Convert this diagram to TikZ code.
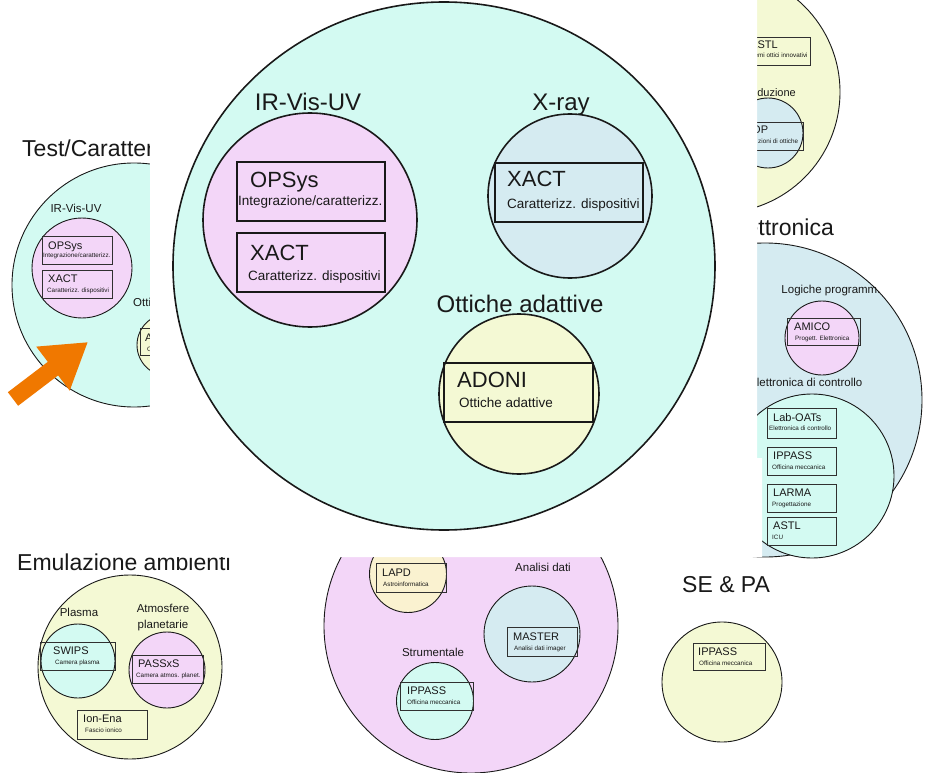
\documentclass[tikz,border=0pt]{standalone}
\usepackage{fontspec}
\setmainfont{Liberation Sans}
\usetikzlibrary{arrows.meta,shapes.geometric}
\definecolor{cyanF}{RGB}{211,250,242}
\definecolor{pinkF}{RGB}{243,214,248}
\definecolor{blueF}{RGB}{213,235,241}
\definecolor{yellowF}{RGB}{244,249,212}
\definecolor{lapdF}{RGB}{250,242,208}
\definecolor{arrowOr}{RGB}{240,120,0}
\definecolor{inkC}{RGB}{25,25,25}
\newcommand\fsz[1]{\fontsize{#1pt}{#1pt}\selectfont}
\tikzset{
  circ/.style={circle, draw=inkC, line width=0.9pt, inner sep=0pt, outer sep=0pt},
  bigcirc/.style={circle, draw=inkC, line width=1.6pt, inner sep=0pt, outer sep=0pt},
  sbox/.style={rectangle, draw=inkC!90, line width=0.8pt, inner sep=0pt, outer sep=0pt, minimum width=70pt, minimum height=28pt, anchor=north west},
  bbox/.style={rectangle, draw=inkC, line width=1.8pt, inner sep=0pt, outer sep=0pt, anchor=north west, minimum width=148pt, minimum height=59pt},
  lbl/.style={inner sep=0pt, anchor=base, text=inkC},
  tl/.style={inner sep=0pt, anchor=base west, text=inkC},
  gtitle/.style={tl, font=\fsz{23}},
  stitle/.style={tl, font=\fsz{11}},
  ssub/.style={tl, font=\fsz{6.3}},
  slbl/.style={lbl, font=\fsz{11.5}},
  btitle/.style={tl, font=\fsz{22}},
  bsub/.style={tl, font=\fsz{13.5}},
  blbl/.style={lbl, font=\fsz{24}},
  fatarrow/.style={draw=arrowOr, line width=17pt, -{Triangle[length=44pt, width=52pt]}}
}
\begin{document}
\begin{tikzpicture}[x=1pt, y=-1pt]
\useasboundingbox (0,0) rectangle (927,773);
\clip (0,0) rectangle (927,773);
\fill[white] (0,0) rectangle (927,773);

% ---------- Test / Caratterizzazione (left, partly hidden)
\node[gtitle] (tTest) at (22,157) {Test/Caratterizzazione};
\node[circ, fill=cyanF, minimum size=244pt] (cTest) at (134,285) {};
\node[slbl] (lTestIR) at (76,212) {IR-Vis-UV};
\node[circ, fill=pinkF, minimum size=100pt] (cTestIR) at (82,268) {};
\node[sbox] (bTestOPS) at (42,236) {};
\node[stitle] (tTestOPS) at (48,249) {OPSys};
\node[ssub] (sTestOPS) at (43,258) {Integrazione/caratterizz.};
\node[sbox] (bTestXACT) at (42,270) {};
\node[stitle] (tTestXACT) at (48,282) {XACT};
\node[ssub] (sTestXACT) at (47,292) {Caratterizz. dispositivi};
\node[tl, font=\fsz{11.5}] (lTestOtt) at (133,306) {Ottiche adattive};
\node[circ, fill=yellowF, minimum size=62pt] (cTestAD) at (168,345) {};
\node[sbox, minimum height=27pt] (bTestAD) at (140,328) {};
\node[stitle] (tTestAD) at (145,341) {ADONI};
\node[ssub] (sTestAD) at (147,351) {Ottiche adattive};

% ---------- Produzione (top right, partly hidden)
\node[circ, fill=yellowF, minimum size=242pt] (cProd) at (719,92) {};
\node[sbox] (bProdA) at (740,37) {};
\node[stitle] (tProdA) at (750,49) {ASTL};
\node[ssub] (sProdA) at (744,58) {Sistemi ottici innovativi};
\node[lbl, font=\fsz{11}] (lProd) at (768,97) {Produzione};
\node[circ, fill=blueF, minimum size=70pt] (cProdB) at (768,133) {};
\node[sbox, minimum height=28pt] (bProdB) at (733,122) {};
\node[stitle] (tProdB) at (752,134) {OP};
\node[ssub] (sProdB) at (758,144) {zioni di ottiche};

% ---------- Elettronica (right)
\node[gtitle] (tElet) at (725,236) {Elettronica};
\node[circ, fill=blueF, minimum size=314pt] (cElet) at (765,400) {};
\node[lbl, font=\fsz{11.5}] (lLog) at (831,293) {Logiche programm.};
\node[circ, fill=pinkF, minimum size=74pt] (cAmico) at (822,338) {};
\node[sbox, minimum width=73pt, minimum height=27pt] (bAmico) at (787,318) {};
\node[stitle] (tAmico) at (794,330) {AMICO};
\node[ssub] (sAmico) at (795,340) {Progett. Elettronica};
\node[tl, font=\fsz{11.5}] (lCtrl) at (749,386) {Elettronica di controllo};
\node[circ, fill=cyanF, minimum size=164pt] (cCtrl) at (812,476) {};
\node[sbox, minimum width=69pt, minimum height=30pt] (bLab) at (767,408) {};
\node[stitle] (tLab) at (773,421) {Lab-OATs};
\node[ssub] (sLab) at (769,430) {Elettronica di controllo};
\node[sbox, minimum width=69pt] (bIPe) at (767,447) {};
\node[stitle] (tIPe) at (773,459) {IPPASS};
\node[ssub] (sIPe) at (772,469) {Officina meccanica};
\node[sbox, minimum width=69pt] (bLar) at (767,484) {};
\node[stitle] (tLar) at (773,496) {LARMA};
\node[ssub] (sLar) at (772,506) {Progettazione};
\node[sbox, minimum width=69pt] (bAstl) at (767,517) {};
\node[stitle] (tAstl) at (773,529) {ASTL};
\node[ssub] (sAstl) at (772,539) {ICU};

% ---------- Emulazione ambienti (bottom left)
\node[gtitle] (tEmu) at (17,570) {Emulazione ambienti};
\node[circ, fill=yellowF, minimum size=184pt] (cEmu) at (130,667) {};
\node[slbl] (lPlasma) at (79,616) {Plasma};
\node[circ, fill=cyanF, minimum size=74pt] (cPlasma) at (78,661) {};
\node[sbox, minimum width=75pt] (bSwips) at (40,642) {};
\node[stitle] (tSwips) at (53,654) {SWIPS};
\node[ssub] (sSwips) at (55,664) {Camera plasma};
\node[slbl] (lAtm1) at (163,612) {Atmosfere};
\node[slbl] (lAtm2) at (163,628) {planetarie};
\node[circ, fill=pinkF, minimum size=76pt] (cAtm) at (167,670) {};
\node[sbox, minimum width=71pt] (bPass) at (132,655) {};
\node[stitle] (tPass) at (138,667) {PASSxS};
\node[ssub] (sPass) at (136,677) {Camera atmos. planet.};
\node[sbox, minimum height=29pt] (bIon) at (77,710) {};
\node[stitle] (tIon) at (83,722) {Ion-Ena};
\node[ssub] (sIon) at (85,732) {Fascio ionico};

% ---------- bottom centre group
\node[circ, fill=pinkF, minimum size=294pt] (cDati) at (471,626) {};
\node[circ, fill=lapdF, minimum size=77pt] (cLapd) at (408,574) {};
\node[sbox, minimum height=29pt] (bLapd) at (376,563) {};
\node[stitle] (tLapd) at (382,576) {LAPD};
\node[ssub] (sLapd) at (383,586) {Astroinformatica};
\node[slbl] (lAnal) at (543,571) {Analisi dati};
\node[circ, fill=blueF, minimum size=96pt] (cMaster) at (532,634) {};
\node[sbox, minimum height=29pt] (bMaster) at (507,627) {};
\node[stitle] (tMaster) at (513,640) {MASTER};
\node[ssub] (sMaster) at (514,650) {Analisi dati imager};
\node[slbl] (lStrum) at (433,656) {Strumentale};
\node[circ, fill=cyanF, minimum size=77pt] (cStrum) at (435,701) {};
\node[sbox, minimum width=73pt] (bIPs) at (400,682) {};
\node[stitle] (tIPs) at (407,694) {IPPASS};
\node[ssub] (sIPs) at (407,704) {Officina meccanica};

% ---------- SE & PA
\node[gtitle] (tSE) at (682,592) {SE \& PA};
\node[circ, fill=yellowF, minimum size=120pt] (cSE) at (722,682) {};
\node[sbox, minimum width=72pt, minimum height=27pt] (bSE) at (693,643) {};
\node[stitle] (tIPse) at (698,655) {IPPASS};
\node[ssub] (sIPse) at (699,665) {Officina meccanica};

% ---------- white cover behind the zoomed view
\fill[white] (150,-5) -- (757,-5) -- (757,458) -- (762,458) -- (762,557) -- (150,557) -- cycle;

% ---------- zoomed Test/Caratterizzazione circle
\node[ellipse, draw=inkC, line width=1.6pt, inner sep=0pt, outer sep=0pt, fill=cyanF, minimum width=542pt, minimum height=528pt] (cBig) at (444,266) {};
\node[blbl] (lIR) at (308,111) {IR-Vis-UV};
\node[bigcirc, fill=pinkF, minimum size=214pt] (cIR) at (310,220) {};
\node[bbox] (bOPS) at (237,162) {};
\node[btitle] (tOPS) at (250,188) {OPSys};
\node[bsub] (sOPS) at (238,205) {Integrazione/caratterizz.};
\node[bbox] (bXA) at (237,233) {};
\node[btitle] (tXA) at (250,260) {XACT};
\node[bsub] (sXA) at (248,280) {Caratterizz. dispositivi};
\node[blbl] (lX) at (561,111) {X-ray};
\node[bigcirc, fill=blueF, minimum size=164pt] (cX) at (570,196) {};
\node[bbox] (bXB) at (495,163) {};
\node[btitle] (tXB) at (507,187) {XACT};
\node[bsub] (sXB) at (507,208) {Caratterizz. dispositivi};
\node[blbl] (lAO) at (520,312) {Ottiche adattive};
\node[bigcirc, fill=yellowF, minimum size=160pt] (cAO) at (519,394) {};
\node[bbox, minimum width=149pt] (bAO) at (444,363) {};
\node[btitle] (tAO) at (457,387) {ADONI};
\node[bsub] (sAO) at (459,407) {Ottiche adattive};

% ---------- orange arrow
\coordinate (arrTail) at (13,399);
\coordinate (arrTip) at (88,342);
\draw[fatarrow] (arrTail) -- (arrTip);
\end{tikzpicture}
\end{document}
